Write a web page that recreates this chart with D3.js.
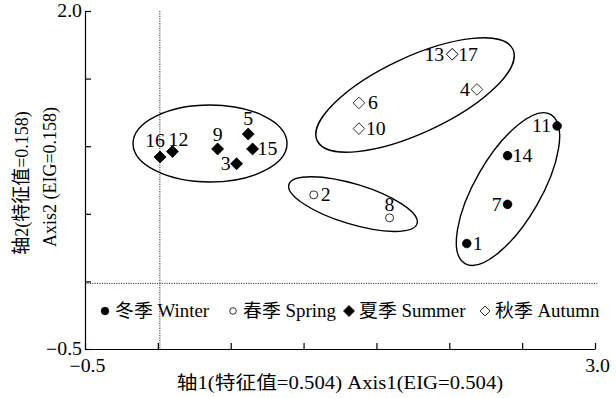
<!DOCTYPE html>
<html>
<head>
<meta charset="utf-8">
<script src="https://cdn.jsdelivr.net/npm/d3@7"></script>
<style>
  html, body { margin: 0; padding: 0; background: #fff; }
  svg { display: block; }
  text { font-family: "Liberation Serif", "Noto Sans CJK SC", serif; fill: #000; }
</style>
</head>
<body>
<svg id="chart" width="616" height="398"></svg>
<script>
// Season groups
const seasons = ["冬季 Winter", "春季 Spring", "夏季 Summer", "秋季 Autumn"];

// Sample numbers, their season and their ordination scores
const sampleIds = [1, 7, 14, 11, 2, 8, 16, 12, 9, 5, 15, 3, 6, 10, 13, 17, 4];
const sampleSeason = [0, 0, 0, 0, 1, 1, 2, 2, 2, 2, 2, 2, 3, 3, 3, 3, 3];
const axis1Scores = [2.12, 2.40, 2.40, 2.74, 1.07, 1.59, 0.015, 0.10, 0.41, 0.62, 0.65, 0.54, 1.38, 1.38, 2.02, 2.02, 2.19];
const axis2Scores = [0.28, 0.57, 0.93, 1.15, 0.64, 0.47, 0.92, 0.96, 0.98, 1.09, 0.98, 0.87, 1.32, 1.13, 1.68, 1.68, 1.42];

// Axis ranges and tick values
const xDomain = [-0.5, 3.0];
const yDomain = [-0.5, 2.0];
const xTicks = [-0.5, 0, 0.5, 1.0, 1.5, 2.0, 2.5, 3.0];
const yTicks = [-0.5, 0, 0.5, 1.0, 1.5, 2.0];

// Group ellipses: season and centre in axis units
const groupSeason = [2, 3, 1, 0];
const groupCx = [0.358, 1.765, 1.339, 2.403];
const groupCy = [1.02, 1.379, 0.572, 0.683];

const xTitle = "轴1(特征值=0.504) Axis1(EIG=0.504)";
const yTitle1 = "轴2(特征值=0.158)";
const yTitle2 = "Axis2 (EIG=0.158)";

// ---- layout ----
const svg = d3.select("#chart");
const plot = { left: 85, right: 595, top: 11, bottom: 349 };
const x = d3.scaleLinear().domain(xDomain).range([plot.left, plot.right]);
const y = d3.scaleLinear().domain(yDomain).range([plot.bottom, plot.top]);

const fontSize = 18;
const widen = 1.1; // horizontal glyph stretch of the horizontal texts

// ellipse shape (pixels) and label placement per sample
const ellipseShape = [
  { rx: 77, ry: 38.5, rot: 0 },
  { rx: 108, ry: 38, rot: -25 },
  { rx: 67, ry: 20, rot: 17 },
  { rx: 86, ry: 33, rot: -60 }
];
const labelPlace = {
  1: ["r", 6, 0], 7: ["l", -6, 0], 14: ["r", 5, 0], 11: ["l", -6, 0],
  2: ["r", 7, 0], 8: ["m", 0, -13],
  16: ["m", -5, -16], 12: ["m", 6, -12], 9: ["m", 0, -14], 5: ["m", 0, -15],
  15: ["r", 5, 0], 3: ["l", -6, 0],
  6: ["r", 9, 0], 10: ["r", 7, 0], 13: ["l", -8, 0], 17: ["r", 6, 0], 4: ["l", -7, 0]
};

// place a horizontal text at (tx, ty) with the widened glyphs
function placeText(sel, tx, ty, k = widen) {
  sel.attr("x", 0).attr("y", 0)
    .attr("transform", `translate(${tx},${ty}) scale(${k},1)`);
}

// reference lines through the origin
svg.append("line")
  .attr("x1", plot.left).attr("x2", plot.right + 3)
  .attr("y1", y(0) + 2).attr("y2", y(0) + 2)
  .attr("stroke", "#333").attr("stroke-width", 1).attr("stroke-dasharray", "1.2,1.2");
svg.append("line")
  .attr("x1", x(0) + 2).attr("x2", x(0) + 2)
  .attr("y1", plot.top).attr("y2", plot.bottom)
  .attr("stroke", "#333").attr("stroke-width", 1).attr("stroke-dasharray", "1.2,1.2");

// axes with inward ticks, labels only at the ends
const fmt = d3.format(".1f");
const xAxis = svg.append("g")
  .attr("transform", `translate(0,${plot.bottom})`)
  .call(d3.axisBottom(x).tickValues(xTicks).tickSize(-6).tickSizeOuter(0)
    .tickFormat(d => (d === xDomain[0] || d === xDomain[1]) ? fmt(d) : ""));
const yAxis = svg.append("g")
  .attr("transform", `translate(${plot.left},0)`)
  .call(d3.axisLeft(y).tickValues(yTicks).tickSize(-6).tickSizeOuter(0)
    .tickFormat(d => (d === yDomain[0] || d === yDomain[1]) ? fmt(d) : ""));
[xAxis, yAxis].forEach(g => {
  g.select(".domain").attr("stroke", "#000").attr("stroke-width", 1.2);
  g.selectAll(".tick line").attr("stroke", "#000").attr("stroke-width", 1.2);
  g.selectAll("text").attr("font-size", fontSize).attr("font-family", "Liberation Serif").attr("fill", "#000");
});
xAxis.selectAll(".tick text").attr("dy", "0.35em").call(placeText, 2, 17);
yAxis.selectAll(".tick text").attr("dy", "0.35em").call(placeText, -3, -1);

// group ellipses
svg.append("g").selectAll("ellipse")
  .data(groupSeason)
  .join("ellipse")
  .attr("transform", (s, i) => `translate(${x(groupCx[i])},${y(groupCy[i])}) rotate(${ellipseShape[i].rot})`)
  .attr("rx", (s, i) => ellipseShape[i].rx)
  .attr("ry", (s, i) => ellipseShape[i].ry)
  .attr("fill", "none").attr("stroke", "#000").attr("stroke-width", 1.4);

// season markers: filled/open circle, filled/open square diamond
const diamond = r => `M0,${-r}L${r},0L0,${r}L${-r},0Z`;
const circle = r => d3.symbol().type(d3.symbolCircle).size(Math.PI * r * r)();
const markerFor = [
  { path: circle(4.3), small: circle(3.8), fill: "#000", sw: 0.8 },
  { path: circle(4), small: circle(3.3), fill: "#fff", sw: 0.8 },
  { path: diamond(6), small: diamond(5.5), fill: "#000", sw: 0.8 },
  { path: diamond(5.8), small: diamond(5), fill: "#fff", sw: 0.8 }
];
const samples = sampleIds.map((id, i) => ({ id, s: sampleSeason[i], a1: axis1Scores[i], a2: axis2Scores[i] }));

const pts = svg.append("g");
pts.selectAll("path")
  .data(samples)
  .join("path")
  .attr("transform", d => `translate(${x(d.a1)},${y(d.a2)})`)
  .attr("d", d => markerFor[d.s].path)
  .attr("fill", d => markerFor[d.s].fill)
  .attr("stroke", "#000").attr("stroke-width", d => markerFor[d.s].sw);

pts.selectAll("text")
  .data(samples)
  .join("text")
  .attr("dy", "0.35em")
  .attr("text-anchor", d => ({ r: "start", l: "end", m: "middle" })[labelPlace[d.id][0]])
  .attr("font-size", fontSize)
  .text(d => d.id)
  .each(function (d) {
    d3.select(this).call(placeText, x(d.a1) + labelPlace[d.id][1], y(d.a2) + labelPlace[d.id][2]);
  });

// legend
const legendY = 311;
const legendX = [105, 233, 349, 485];
const legend = svg.append("g");
seasons.forEach((name, i) => {
  legend.append("path")
    .attr("transform", `translate(${legendX[i]},${legendY})`)
    .attr("d", markerFor[i].small)
    .attr("fill", markerFor[i].fill).attr("stroke", "#000").attr("stroke-width", 0.8);
  legend.append("text")
    .attr("dy", "0.35em")
    .attr("font-size", fontSize)
    .text(name)
    .call(placeText, legendX[i] + 10, legendY, 1.05);
});

// axis titles
svg.append("text")
  .attr("dy", "0.35em")
  .attr("text-anchor", "middle").attr("font-size", 18.5)
  .text(xTitle)
  .call(placeText, 340, 383, 1.12);
svg.append("text")
  .attr("transform", "translate(21,183) rotate(-90) scale(1,1.1)")
  .attr("dy", "0.35em").attr("text-anchor", "middle").attr("font-size", fontSize)
  .text(yTitle1);
svg.append("text")
  .attr("transform", "translate(49,177) rotate(-90) scale(1,1.1)")
  .attr("dy", "0.35em").attr("text-anchor", "middle").attr("font-size", fontSize)
  .text(yTitle2);
</script>
</body>
</html>
